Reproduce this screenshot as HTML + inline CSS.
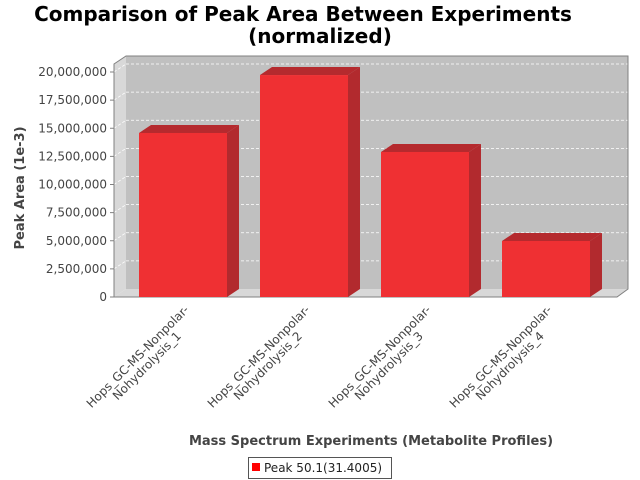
<!DOCTYPE html>
<html><head><meta charset="utf-8"><style>
body{margin:0;background:#fff}
svg{display:block;font-family:"DejaVu Sans","Liberation Sans",sans-serif}
</style></head><body>
<svg id="c" width="640" height="480" xmlns="http://www.w3.org/2000/svg">
<text x="303" y="21" text-anchor="middle" font-size="20" font-weight="bold">Comparison of Peak Area Between Experiments</text>
<text x="320" y="43" text-anchor="middle" font-size="20" font-weight="bold">(normalized)</text>
<polygon points="126,56 628,56 628,289 126,289" fill="#c0c0c0"/>
<polygon points="114,64 126,56 126,289 114,297" fill="#d8d8d8"/>
<polygon points="114,297 126,289 628,289 617,297" fill="#d8d8d8"/>
<g id="grid"></g>
<polyline points="114,297 114,64 126,56 628,56 628,289 617,297 114,297" fill="none" stroke="#808080" stroke-width="1"/>
<g id="yaxis"></g>
<g id="bars"></g>
<g id="xlabels"></g>
<text transform="translate(24,188) rotate(-90)" text-anchor="middle" font-size="13" font-weight="bold" fill="#444">Peak Area (1e-3)</text>
<text x="371" y="445" text-anchor="middle" font-size="13" font-weight="bold" fill="#444">Mass Spectrum Experiments (Metabolite Profiles)</text>
<g>
<rect x="248.5" y="457.5" width="143" height="21" fill="#fff" stroke="#555"/>
<rect x="252" y="463" width="8" height="8" fill="#f00"/>
<text x="264" y="472" font-size="12" fill="#222">Peak 50.1(31.4005)</text>
</g>
</svg>
<script>
const categories = ["Hops_GC-MS-Nonpolar-|Nohydrolysis_1","Hops_GC-MS-Nonpolar-|Nohydrolysis_2","Hops_GC-MS-Nonpolar-|Nohydrolysis_3","Hops_GC-MS-Nonpolar-|Nohydrolysis_4"];
const values = [14580000, 19730000, 12890000, 4980000];
const yTicks = [0,2500000,5000000,7500000,10000000,12500000,15000000,17500000,20000000];
const NS="http://www.w3.org/2000/svg";
const y0=297, yTop=72, vMax=20000000, dx=12, dy=8;
function yScale(v){return y0-(v/vMax)*(y0-yTop);}
const bandL=122.5, bandR=606.5, n=categories.length, step=(bandR-bandL)/n;
function xCenter(i){return bandL+step*(i+0.5);}
function mk(tag,attrs,parent){const e=document.createElementNS(NS,tag);for(const k in attrs)e.setAttribute(k,attrs[k]);parent.appendChild(e);return e;}
const grid=document.getElementById('grid'), yaxis=document.getElementById('yaxis');
yTicks.forEach(t=>{
  const y=yScale(t);
  if(t>0){
    const g=mk('line',{x1:126,y1:y-dy,x2:628,y2:y-dy,stroke:'#fff','stroke-dasharray':'3,2','stroke-width':0.8},grid);
    
    
    const g2=mk('line',{x1:114,y1:y,x2:126,y2:y-dy,stroke:'#fff','stroke-dasharray':'3,2','stroke-width':0.8},grid);
    
    
  }
  const tk=mk('line',{x1:110,y1:y,x2:114,y2:y,stroke:'#808080'},yaxis);
  
  
  const tx=mk('text',{x:107,y:y+4,'text-anchor':'end','font-size':12,fill:'#444'},yaxis);
  tx.textContent=t.toLocaleString('en-US');
  
  
});
const bars=document.getElementById('bars'), xl=document.getElementById('xlabels');
const bw=88;
values.forEach((v,i)=>{
  const cx=xCenter(i), l=cx-bw/2, r=cx+bw/2, t=yScale(v);
  const g=mk('g',{},bars);
  
  
  mk('polygon',{points:`${r},${t} ${r+dx},${t-dy} ${r+dx},${y0-dy} ${r},${y0}`,fill:'#b22a2e'},g);
  mk('polygon',{points:`${l},${t} ${l+dx},${t-dy} ${r+dx},${t-dy} ${r},${t}`,fill:'#b52a2e'},g);
  mk('rect',{x:l,y:t,width:bw,height:y0-t,fill:'#ef3033'},g);
  const parts=categories[i].split('|');
  const lg=mk('g',{transform:`translate(${cx+7},310) rotate(-45)`,'font-size':12,fill:'#444'},xl);
  
  
  const w=140;
  parts.forEach((p,j)=>{
    const te=mk('text',{x:-w/2,y:j*13,'text-anchor':'middle'},lg);
    te.textContent=p;
  });
});
</script>
</body></html>
